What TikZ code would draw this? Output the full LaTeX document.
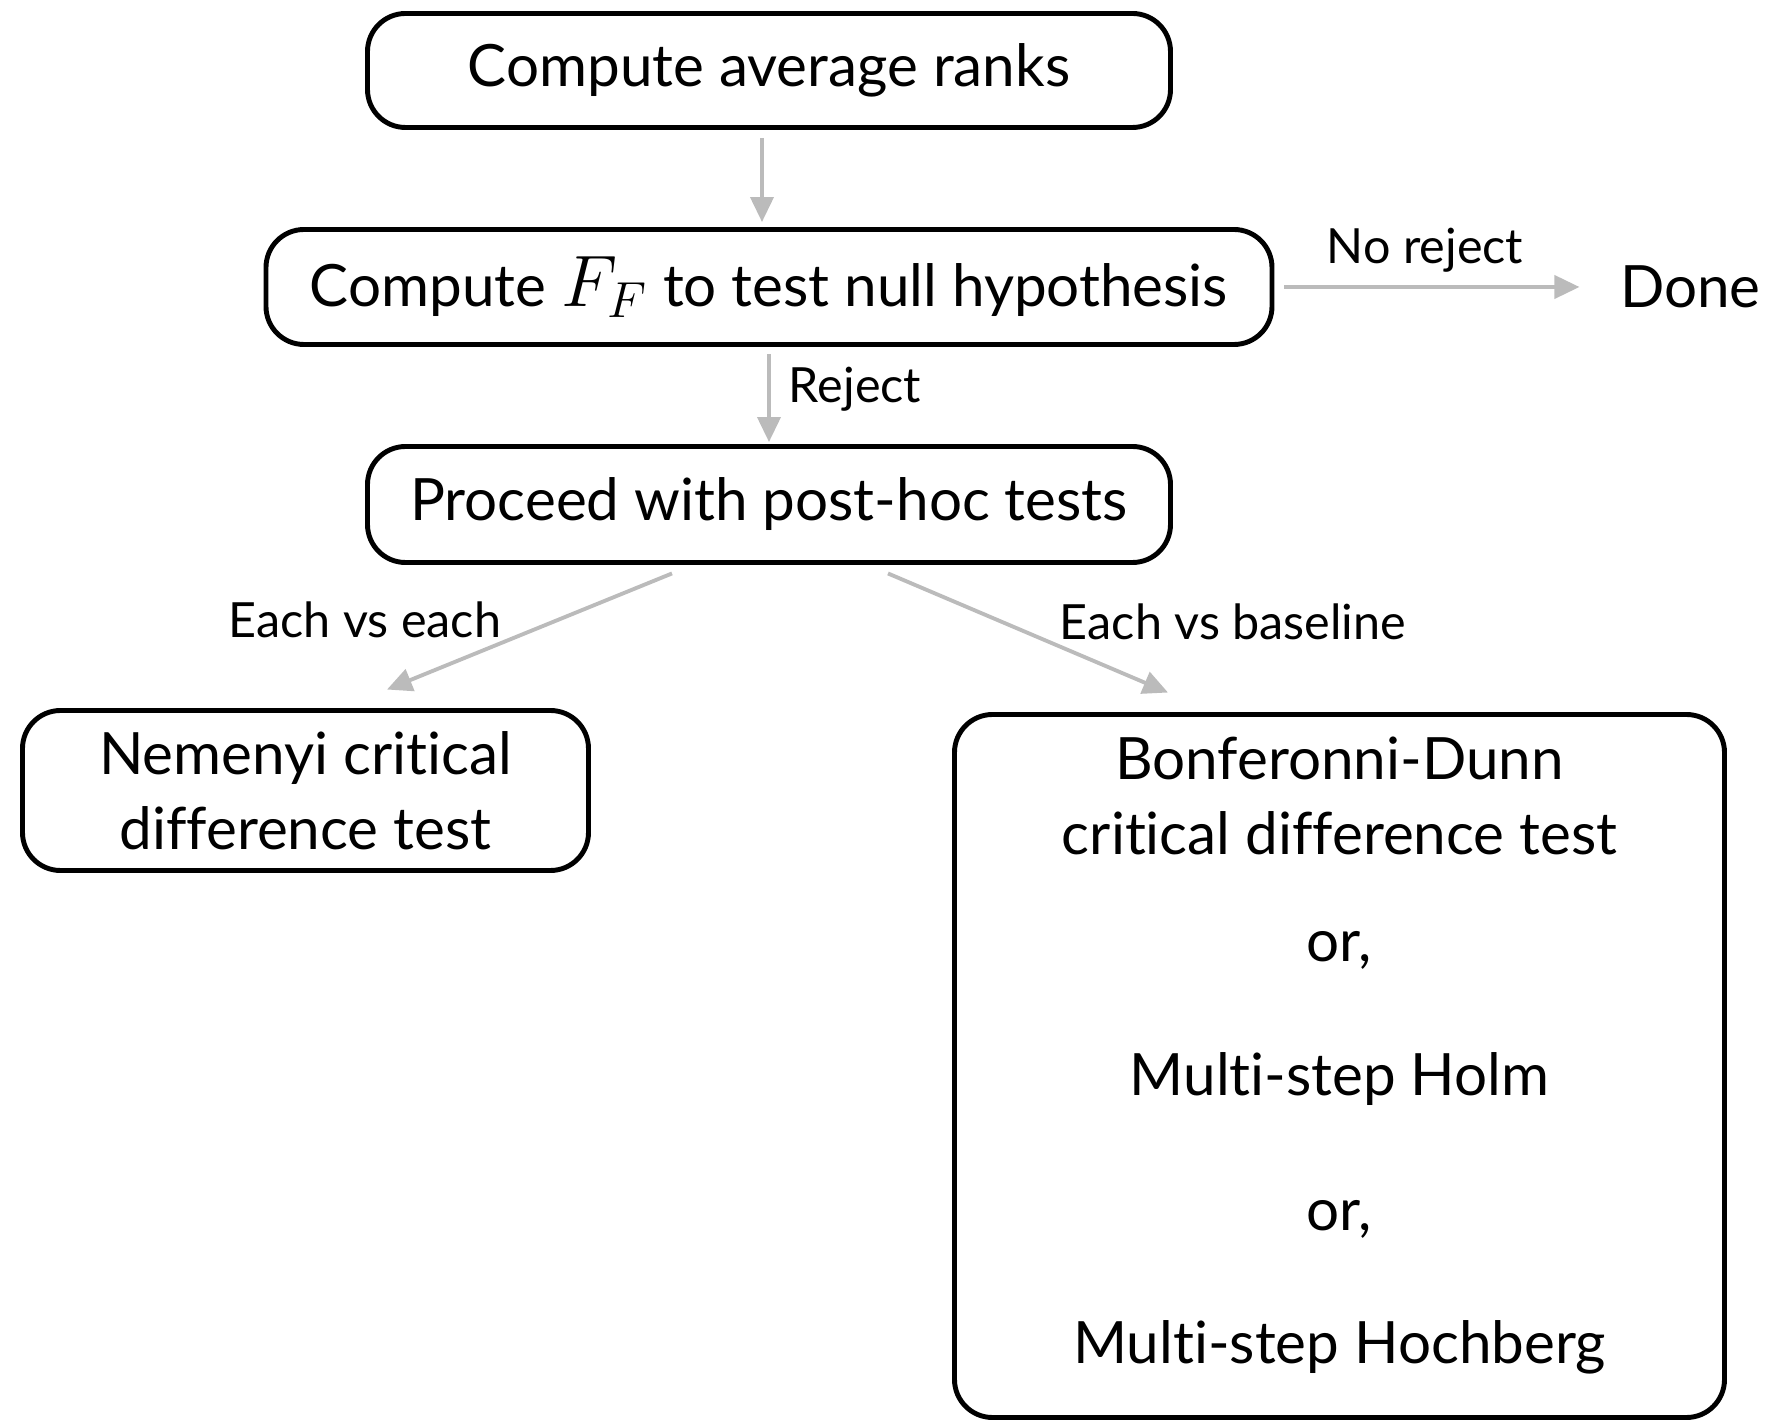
\documentclass[tikz,border=0pt]{standalone}
\usepackage{fontspec}
\setmainfont{Lato}[Ligatures=NoCommon]
\usepackage{xcolor}
\usetikzlibrary{positioning, arrows.meta}
\definecolor{arrowgray}{HTML}{BBBBBB}
\tikzset{
    box/.style={draw, line width=1.4pt, rounded corners=0.38cm, align=center, font=\fontsize{16.6}{21.3}\selectfont}, % the rounded boxes
    edgelabel/.style={inner sep=0pt, font=\fontsize{13.8}{16}\selectfont}, % text next to the arrows
}
\tikzstyle{arrow} = [line width=1.1pt, draw=arrowgray, -{Triangle[length=2.5mm, width=2.3mm]}]

\begin{document}
\begin{tikzpicture}[node distance=2cm, on grid]
        \useasboundingbox (-7.69,0.705) rectangle (10.04,-13.535);

        \node[box, minimum width=8.03cm, minimum height=1.14cm] (ranks) {Compute average ranks};
        \node[box, minimum width=10.06cm, minimum height=1.15cm] (ftest) [below=2.165cm of ranks] {Compute {\fontsize{19.5}{21.3}\selectfont$F_F$} to test null hypothesis};
        \node[box, minimum width=8.03cm, minimum height=1.16cm] (posthoc) [below=2.175cm of ftest] {Proceed with post-hoc tests};
        \node[font=\fontsize{16.6}{21.3}\selectfont, inner sep=0pt, on grid=false] (done) [right=3.45cm of ftest] {Done};
        \node[box, minimum width=5.66cm, minimum height=1.6cm] (nemenyi) [below left=2.86cm and 4.635cm of posthoc] {Nemenyi critical\\difference test};
        \node[box, minimum width=7.7cm, minimum height=7.03cm] (bonf) [below right=5.615cm and 5.705cm of posthoc]
            {Bonferonni-Dunn\\critical difference test\\[0.32cm]or,\\[0.59cm]Multi-step Holm\\[0.6cm]or,\\[0.58cm]Multi-step Hochberg\\[-0.43cm]\mbox{}};

        \draw[arrow, shorten <=0.08cm, shorten >=0.05cm] ([xshift=-0.07cm]ranks.south) -- ([xshift=-0.07cm]ftest.north);
        \draw[arrow, shorten <=0.1cm, shorten >=0.4cm] (ftest) -- node[edgelabel, anchor=base, xshift=-0.22cm, yshift=0.23cm] {No reject} (done);
        \draw[arrow, shorten <=0.07cm, shorten >=0.02cm] (ftest.south) -- node[edgelabel, anchor=base west, xshift=0.18cm, yshift=-0.07cm] {Reject} (posthoc.north);
        \draw[arrow] ([shift={(-0.97,-0.085)}]posthoc.south) -- node[edgelabel, anchor=base east, xshift=-0.265cm, yshift=-0.065cm] {Each vs each} ([shift={(0.815,0.185)}]nemenyi.north);
        \draw[arrow] ([shift={(1.19,-0.085)}]posthoc.south) -- node[edgelabel, anchor=base west, xshift=0.3cm, yshift=-0.07cm] {Each vs baseline} ([shift={(-1.715,0.195)}]bonf.north);

\end{tikzpicture}
\end{document}
